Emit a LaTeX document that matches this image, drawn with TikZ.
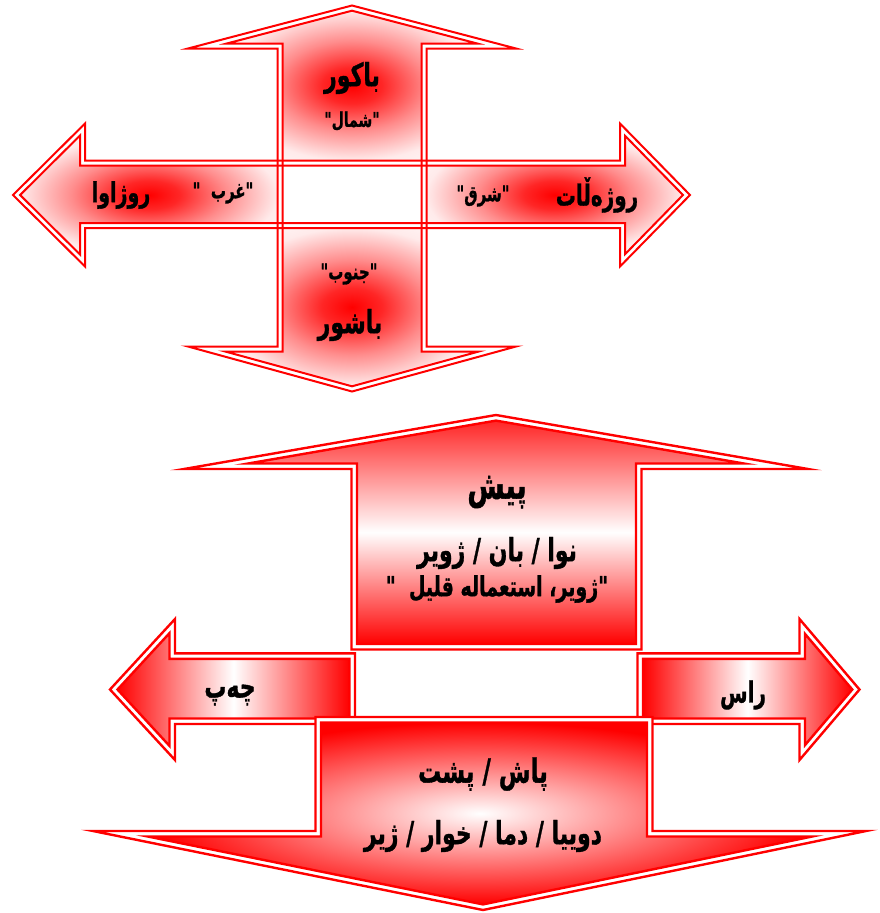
\documentclass[tikz,border=0pt]{standalone}
\usepackage{graphicx}
\usepackage{fontspec}
\newfontfamily\arabicfont[Script=Arabic, BoldFeatures={FakeBold=1.2}]{DejaVu Sans}
\TeXXeTstate=1
\pgfdeclareradialshading{redglow}{\pgfpoint{0bp}{0bp}}{color(0bp)=(red); color(6bp)=(red!85); color(15bp)=(red!45); color(25bp)=(red!8); color(35bp)=(white); color(50bp)=(white)}
\newcommand{\tallR}[1]{\scalebox{1}[1.45]{\beginR #1\endR}}
\tikzset{
  thinline/.style={draw=red, line width=2pt, line join=miter, miter limit=30},
  thickline/.style={draw=red, line width=2.4pt, line join=miter, miter limit=30},
  glow/.style={shading=redglow},
  vband/.style={top color=red!85, bottom color=red, middle color=white},
  hband/.style={left color=red, right color=red, middle color=white},
  rim/.style={inner color=white, outer color=red},
  ar/.style={font=\arabicfont\bfseries\fontsize{#1}{#1}\selectfont, text=black, inner sep=0pt},
}
\begin{document}
\begin{tikzpicture}[x=1pt,y=-1pt]
\useasboundingbox (0,0) rectangle (880,913);
% ---------- top compass: shaded arms ----------
\shade[glow] (352,10.7) -- (477.2,43.5) -- (421.5,43.5) -- (421.5,160.5) -- (282.5,160.5) -- (282.5,43.5) -- (226.8,43.5) -- cycle;
\shade[glow] (352,386.3) -- (478.8,351.5) -- (421.5,351.5) -- (421.5,228) -- (282.5,228) -- (282.5,351.5) -- (225.2,351.5) -- cycle;
\shade[glow] (20.1,195) -- (80,135.5) -- (80,165.5) -- (277.5,165.5) -- (277.5,223) -- (80,223) -- (80,254.5) -- cycle;
\shade[glow] (683,195) -- (625,135.75) -- (625,165.5) -- (426.5,165.5) -- (426.5,223) -- (625,223) -- (625,254.25) -- cycle;
% vertical double outline
\draw[thinline] (352,5.5) -- (516,48.5) -- (426.5,48.5) -- (426.5,346.5) -- (516,346.5) -- (352,391.5) -- (188,346.5) -- (277.5,346.5) -- (277.5,48.5) -- (188,48.5) -- cycle;
\draw[thinline] (352,10.7) -- (477.2,43.5) -- (421.5,43.5) -- (421.5,351.5) -- (478.8,351.5) -- (352,386.3) -- (225.2,351.5) -- (282.5,351.5) -- (282.5,43.5) -- (226.8,43.5) -- cycle;
% horizontal double outline
\draw[thinline] (13,195) -- (85,123.5) -- (85,160.5) -- (620,160.5) -- (620,123.5) -- (690,195) -- (620,266.5) -- (620,228) -- (85,228) -- (85,266.5) -- cycle;
\draw[thinline] (20.1,195) -- (80,135.5) -- (80,165.5) -- (625,165.5) -- (625,135.75) -- (683,195) -- (625,254.25) -- (625,223) -- (80,223) -- (80,254.5) -- cycle;
% top labels
\node[ar=22] (bakur) at (352,78) {\tallR{باکور}};
\node[ar=14] (shamal) at (352,121) {\tallR{"شمال"}};
\node[ar=19] (rozhawa) at (121,195) {\tallR{روژاوا}};
\node[ar=15] (gharb) at (223,193) {\tallR{"غرب~ "}};
\node[ar=20] (rozhalat) at (597,195) {\tallR{روژەڵات}};
\node[ar=15] (sharq) at (483,196) {\tallR{"شرق"}};
\node[ar=15] (janub) at (349,274) {\tallR{"جنوب"}};
\node[ar=22] (bashur) at (350,325) {\tallR{باشور}};
% ---------- bottom: up arrow ----------
\fill[white] (496,415) -- (808,469) -- (641.5,469) -- (641.5,649.5) -- (351.5,649.5) -- (351.5,469) -- (184,469) -- cycle;
\shade[vband] (496,420.6) -- (743.9,463.5) -- (636,463.5) -- (636,644) -- (357,644) -- (357,463.5) -- (248.1,463.5) -- cycle;
\draw[thickline] (496,415) -- (808,469) -- (641.5,469) -- (641.5,649.5) -- (351.5,649.5) -- (351.5,469) -- (184,469) -- cycle;
\draw[thickline] (496,420.6) -- (743.9,463.5) -- (636,463.5) -- (636,644) -- (357,644) -- (357,463.5) -- (248.1,463.5) -- cycle;
% left arrow
\fill[white] (110,689.5) -- (175,619) -- (175,653.3) -- (355,653.3) -- (355,724) -- (175,724) -- (175,760) -- cycle;
\shade[hband] (117.5,689.5) -- (169.5,633.1) -- (169.5,658.8) -- (349.5,658.8) -- (349.5,718.5) -- (169.5,718.5) -- (169.5,745.9) -- cycle;
\draw[thickline] (110,689.5) -- (175,619) -- (175,653.3) -- (355,653.3) -- (355,724) -- (175,724) -- (175,760) -- cycle;
\draw[thickline] (117.5,689.5) -- (169.5,633.1) -- (169.5,658.8) -- (349.5,658.8) -- (349.5,718.5) -- (169.5,718.5) -- (169.5,745.9) -- cycle;
% right arrow
\fill[white] (859.5,689.5) -- (799.5,619) -- (799.5,653.3) -- (637.5,653.3) -- (637.5,724) -- (799.5,724) -- (799.5,760) -- cycle;
\shade[hband] (852.3,689.5) -- (805,633.9) -- (805,658.8) -- (643,658.8) -- (643,718.5) -- (805,718.5) -- (805,745.1) -- cycle;
\draw[thickline] (859.5,689.5) -- (799.5,619) -- (799.5,653.3) -- (637.5,653.3) -- (637.5,724) -- (799.5,724) -- (799.5,760) -- cycle;
\draw[thickline] (852.3,689.5) -- (805,633.9) -- (805,658.8) -- (643,658.8) -- (643,718.5) -- (805,718.5) -- (805,745.1) -- cycle;
% down arrow
\fill[white] (483,910) -- (866,831) -- (652.5,831) -- (652.5,717) -- (315.5,717) -- (315.5,831) -- (93,831) -- cycle;
\shade[rim] (483,904.4) -- (812.1,836.5) -- (647,836.5) -- (647,722.5) -- (321,722.5) -- (321,836.5) -- (147.8,836.5) -- cycle;
\draw[thickline] (483,910) -- (866,831) -- (652.5,831) -- (652.5,717) -- (315.5,717) -- (315.5,831) -- (93,831) -- cycle;
\draw[thickline] (483,904.4) -- (812.1,836.5) -- (647,836.5) -- (647,722.5) -- (321,722.5) -- (321,836.5) -- (147.8,836.5) -- cycle;
% bottom labels
\node[ar=27] (pesh) at (497,492) {\tallR{پیش}};
\node[ar=22] (nawa) at (497,553) {\tallR{نوا / بان / ژویر}};
\node[ar=19] (zhwer) at (497,589) {\tallR{"ژویر، استعماله قلیل~ "}};
\node[ar=22] (chap) at (230,695) {\tallR{چەپ}};
\node[ar=20] (ras) at (743,695) {\tallR{راس}};
\node[ar=23] (pash) at (483,774) {\tallR{پاش / پشت}};
\node[ar=22] (dwaya) at (483,836) {\tallR{دوییا / دما / خوار / ژیر}};
\end{tikzpicture}
\end{document}
